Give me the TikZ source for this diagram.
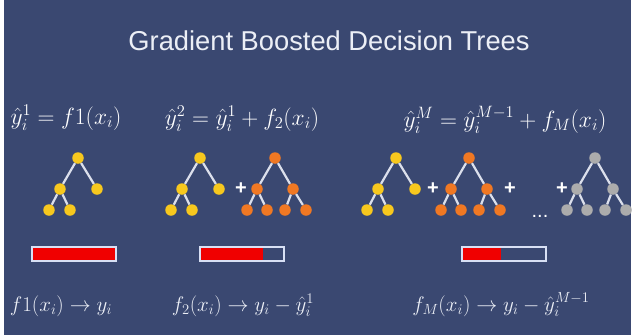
\RequirePackage{fix-cm}
\documentclass[tikz,border=0pt]{standalone}
\usepackage{amsmath,amssymb}
\usepackage{fontspec}
\usepackage{tikz}
\usetikzlibrary{calc,positioning}
\newfontfamily\titlefont{Liberation Sans}
\definecolor{slide}{RGB}{58,72,113}
\definecolor{txt}{RGB}{236,239,246}
\definecolor{branchcol}{RGB}{220,224,236}
\definecolor{ygold}{RGB}{247,200,30}
\definecolor{orng}{RGB}{240,120,35}
\definecolor{greyn}{RGB}{172,172,172}
\definecolor{barline}{RGB}{216,224,244}
\definecolor{barred}{RGB}{240,0,0}
\newcommand{\smalltree}[3]{%
  \node[treenode, fill=#3] (#1) at (#2,158) {};
  \node[treenode, fill=#3] (#1-l) at (#2-18,189) {};
  \node[treenode, fill=#3] (#1-r) at (#2+19,189) {};
  \node[treenode, fill=#3] (#1-ll) at (#2-29,210) {};
  \node[treenode, fill=#3] (#1-lr) at (#2-8,210) {};
  \draw[branch] (#1) -- (#1-l) (#1) -- (#1-r) (#1-l) -- (#1-ll) (#1-l) -- (#1-lr);
}
\newcommand{\bigtree}[3]{%
  \node[treenode, fill=#3] (#1) at (#2,158) {};
  \node[treenode, fill=#3] (#1-l) at (#2-18,189) {};
  \node[treenode, fill=#3] (#1-r) at (#2+18,189) {};
  \node[treenode, fill=#3] (#1-ll) at (#2-28,210) {};
  \node[treenode, fill=#3] (#1-lr) at (#2-8,210) {};
  \node[treenode, fill=#3] (#1-rl) at (#2+10,210) {};
  \node[treenode, fill=#3] (#1-rr) at (#2+31,210) {};
  \draw[branch] (#1) -- (#1-l) (#1) -- (#1-r) (#1-l) -- (#1-ll) (#1-l) -- (#1-lr)
    (#1-r) -- (#1-rl) (#1-r) -- (#1-rr);
}

\begin{document}
\begin{tikzpicture}[
    x=1pt, y=-1pt,
    title/.style={text=txt, font=\titlefont\fontsize{27.3}{30}\selectfont, anchor=base, inner sep=0},
    topeq/.style={text=white, font=\fontsize{23.5}{26}\selectfont, anchor=base, inner sep=0},
    boteq/.style={text=txt, font=\fontsize{21}{24}\selectfont, anchor=base, inner sep=0},
    treenode/.style={circle, inner sep=0, minimum size=11.5pt},
    branch/.style={draw=branchcol, line width=2.2pt},
    plus/.style={text=white, font=\titlefont\bfseries\fontsize{20}{22}\selectfont, inner sep=0},
    errbar/.style={draw=barline, line width=2pt, minimum width=84pt, minimum height=14pt, inner sep=0,
      path picture={\fill[barred] (path picture bounding box.south west) rectangle
        ($(path picture bounding box.north west)!#1!(path picture bounding box.north east)$);}},
]
\useasboundingbox (0,0) rectangle (635,335);
\fill[white] (0,0) rectangle (635,335);
\fill[slide] (4,0) rectangle (631,335);

\node[title] (head) at (329,50) {Gradient Boosted Decision Trees};

\node[topeq] (eq1) at (66,124) {$\hat{y}_i^1 = f1(x_i)$};
\node[topeq] (eq2) at (242,125) {$\hat{y}_i^2 = \hat{y}_i^1 + f_2(x_i)$};
\node[topeq] (eqM) at (505,127) {$\hat{y}_i^M = \hat{y}_i^{M-1} + f_M(x_i)$};

\smalltree{t1}{78}{ygold}
\smalltree{t2}{200}{ygold}
\bigtree{t2b}{275}{orng}
\smalltree{t3}{396}{ygold}
\bigtree{t3b}{469}{orng}
\bigtree{t3m}{595}{greyn}

\node[plus] (p1) at (241,189) {+};
\node[plus] (p2) at (433,189) {+};
\node[plus] (p3) at (510,189) {+};
\node[plus] (p4) at (562,189) {+};
\node[text=white, font=\titlefont\fontsize{20}{22}\selectfont, inner sep=0, anchor=base] (dots) at (540,217) {...};

\node[errbar=1] (bar1) at (74,254) {};
\node[errbar=0.75] (bar2) at (241.5,254) {};
\node[errbar=0.46] (bar3) at (504,254) {};

\node[boteq] (res1) at (61,311) {$f1(x_i) \rightarrow y_i$};
\node[boteq] (res2) at (243,311) {$f_2(x_i) \rightarrow y_i - \hat{y}_i^1$};
\node[boteq] (resM) at (501,311) {$f_M(x_i) \rightarrow y_i - \hat{y}_i^{M-1}$};
\end{tikzpicture}
\end{document}
